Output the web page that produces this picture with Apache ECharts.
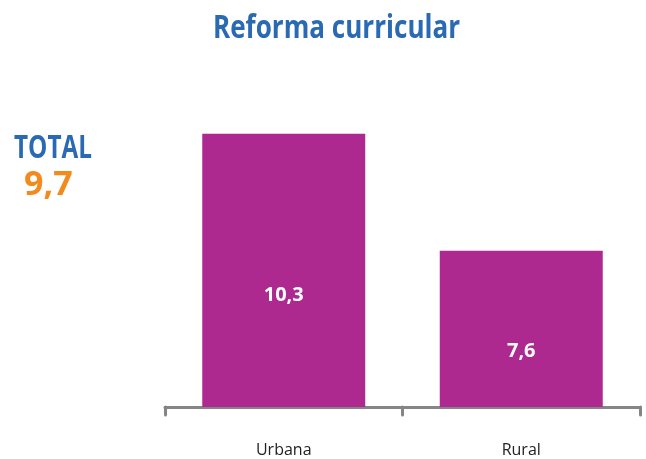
<!DOCTYPE html>
<html><head><meta charset="utf-8">
<script src="https://cdn.jsdelivr.net/npm/echarts@6/dist/echarts.min.js"></script>
<style>html,body{margin:0;padding:0;background:#fff}#c{width:646px;height:459px}</style>
</head><body><div id="c"></div>
<script>
const titleText = "Reforma curricular";
const categories = ["Urbana", "Rural"];
const values = [10.3, 7.6];
const valueLabels = ["10,3", "7,6"];
const totalLabel = "TOTAL";
const totalValue = "9,7";
const labelOffsets = [[0, 25], [0, 22]];

const chart = echarts.init(document.getElementById('c'), null, {renderer: 'canvas'});
chart.setOption({
  animation: false,
  backgroundColor: '#ffffff',
  graphic: [
    {type: 'text', x: 213, y: 12, scaleX: 0.79, originX: 0,
     style: {text: titleText, fontFamily: '"Open Sans",sans-serif', fontWeight: 'bold', fontSize: 33, fill: '#2A6AB3'}},
    {type: 'text', x: 14, y: 133, scaleX: 0.76, originX: 0,
     style: {text: totalLabel, fontFamily: '"Open Sans",sans-serif', fontWeight: 'bold', fontSize: 32, fill: '#2A6AB3'}},
    {type: 'text', x: 24, y: 168, style: {text: totalValue, fontFamily: '"Open Sans",sans-serif', fontWeight: 'bold', fontSize: 34, fill: '#F28A1E'}}
  ],
  grid: {left: 165, right: 6, top: 60, bottom: 52},
  xAxis: {
    type: 'category', data: categories,
    axisLine: {lineStyle: {color: '#858585', width: 3, cap: 'round'}},
    axisTick: {show: true, length: 8, lineStyle: {color: '#858585', width: 3, cap: 'round'}},
    axisLabel: {margin: 35, fontFamily: '"Open Sans",sans-serif', fontSize: 16, color: '#222'}
  },
  yAxis: {type: 'value', min: 4, max: 12, show: false, splitLine: {show: false}},
  series: [{
    type: 'bar', barWidth: 163,
    data: values.map((v, i) => ({value: v, label: {offset: labelOffsets[i]}})),
    itemStyle: {color: '#AE298F'},
    label: {show: true, position: 'inside', formatter: p => valueLabels[p.dataIndex],
      fontFamily: '"Open Sans",sans-serif', fontWeight: 'bold', fontSize: 20, color: '#ffffff'}
  }]
});
</script></body></html>
